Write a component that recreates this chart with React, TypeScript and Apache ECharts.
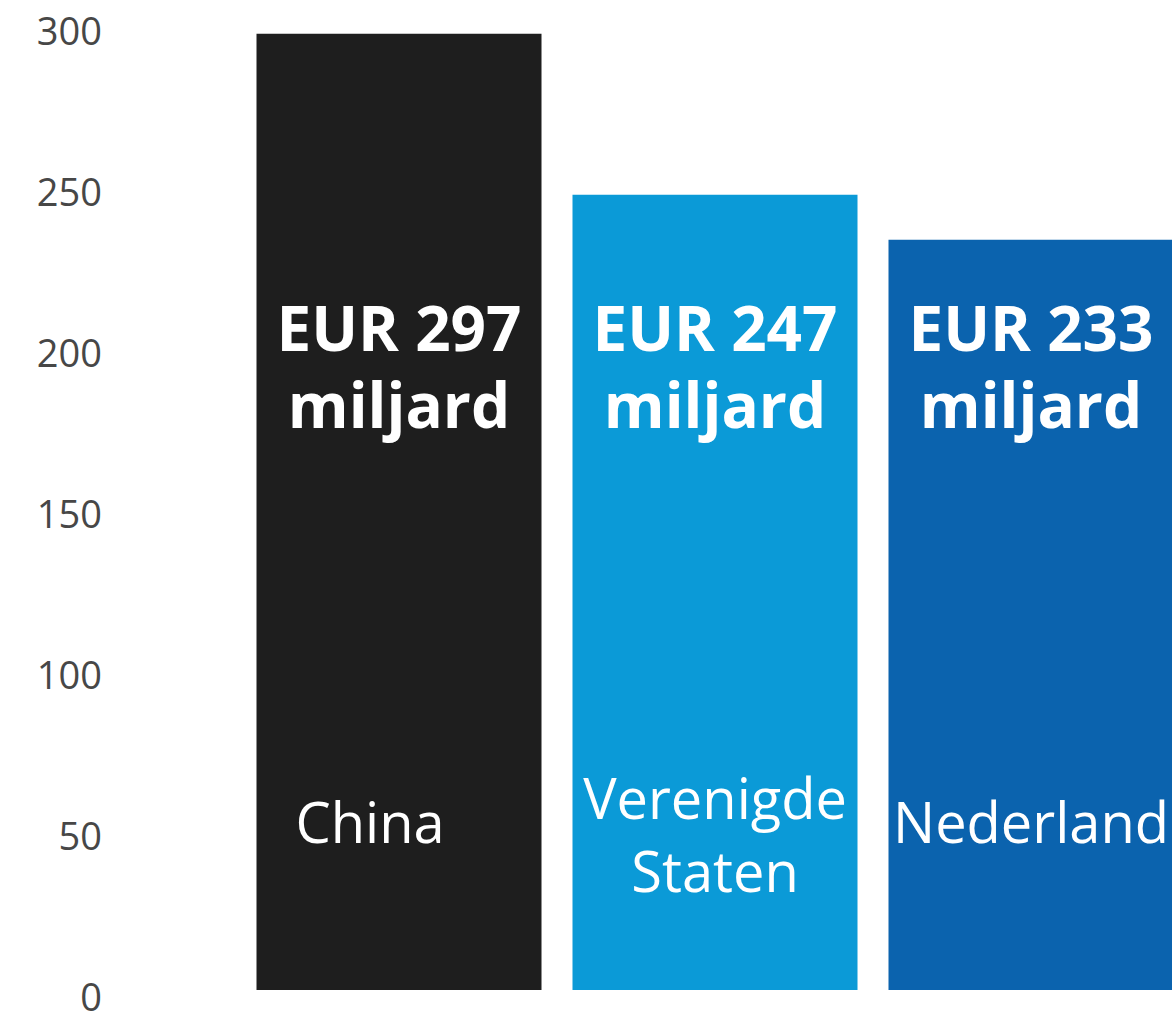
import React, { useEffect, useRef } from "react";
import * as echarts from "echarts";

const categories = ["China", "Verenigde\nStaten", "Nederland"];
const values = [297, 247, 233];
const barColors = ["#1e1e1e", "#0b9ad7", "#0b63ae"];
const yMin = 0;
const yMax = 300;
const yInterval = 50;
const labelAnchorValue = 194;

export default function App() {
  const ref = useRef<HTMLDivElement>(null);
  useEffect(() => {
    if (!ref.current) return;
    const chart = echarts.init(ref.current, undefined, { renderer: "svg" });
    const baseCat = {
      verticalAlign: "middle",
      color: "#ffffff",
      fontSize: 56,
      lineHeight: 73,
      fontFamily: "Open Sans",
    };
    const catStyles: any[] = [
      { ...baseCat, padding: [0, 58, 0, 0] },
      null,
      { ...baseCat },
    ];
    chart.setOption({
      animation: false,
      backgroundColor: "#ffffff",
      grid: [
        { left: 241, top: 24, width: 948, height: 966, outerBoundsMode: "none" },
        { left: 241, top: 30, width: 948, height: 966, outerBoundsMode: "none" },
      ],
      xAxis: [
        {
          type: "category",
          gridIndex: 0,
          data: categories.map((c, i) =>
            catStyles[i] ? { value: c, textStyle: catStyles[i] } : c
          ),
          z: 10,
          axisLine: { show: false },
          axisTick: { show: false },
          axisLabel: {
            inside: true,
            interval: 0,
            margin: 169,
            ...baseCat,
            formatter: (v: string) =>
              v.indexOf("\n") >= 0
                ? "{p| }\n" + v.split("\n").map((s) => `{n|${s}}`).join("\n")
                : v,
            rich: {
              n: { ...baseCat },
              p: { fontSize: 10, lineHeight: 24, color: "#ffffff" },
            },
          },
        },
        {
          type: "category",
          gridIndex: 1,
          data: categories,
          show: false,
        },
      ],
      yAxis: [
        {
          type: "value",
          gridIndex: 0,
          min: yMin,
          max: yMax,
          interval: yInterval,
          show: false,
          splitLine: { show: false },
        },
        {
          type: "value",
          gridIndex: 1,
          min: yMin,
          max: yMax,
          interval: yInterval,
          splitLine: { show: false },
          axisLine: { show: false },
          axisTick: { show: false },
          axisLabel: {
            margin: 139,
            fontSize: 38,
            lineHeight: 30,
            color: "#474747",
            fontFamily: "Open Sans",
          },
        },
      ],
      series: [
        {
          type: "bar",
          xAxisIndex: 0,
          yAxisIndex: 0,
          barWidth: 285,
          data: values.map((v, i) => ({ value: v, itemStyle: { color: barColors[i] } })),
          z: 2,
        },
        {
          type: "scatter",
          xAxisIndex: 0,
          yAxisIndex: 0,
          symbolSize: 0,
          silent: true,
          z: 5,
          itemStyle: { opacity: 1 },
          data: values.map((_, i) => [i, labelAnchorValue]),
          label: {
            show: true,
            position: "inside",
            formatter: (p: any) => `EUR ${values[p.dataIndex]}\nmiljard`,
            color: "#ffffff",
            opacity: 1,
            fontSize: 62,
            fontWeight: "bold",
            lineHeight: 77,
            fontFamily: "Open Sans",
            align: "center",
          },
        },
      ],
    });
    return () => chart.dispose();
  }, []);
  return (
    <div
      ref={ref}
      style={{ position: "fixed", left: 0, top: 0, width: 1172, height: 1014 }}
    />
  );
}
